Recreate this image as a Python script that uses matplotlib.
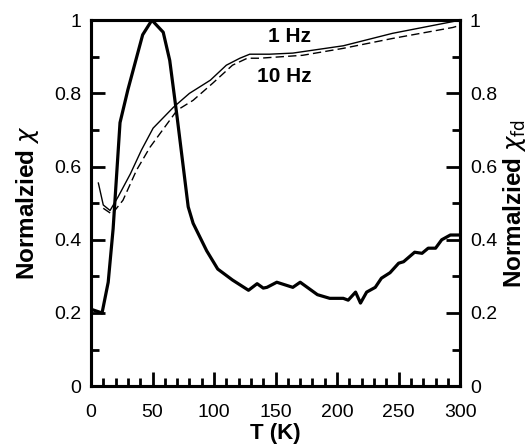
import numpy as np
import matplotlib
matplotlib.use('Agg')
import matplotlib.pyplot as plt
from matplotlib.ticker import MultipleLocator, FuncFormatter

plt.rcParams['font.family'] = ['Liberation Sans', 'DejaVu Sans']

# chi_fd (thick curve, right axis)
t_fd = [2, 9, 14, 18, 23.6, 30, 34, 42, 49.5, 58.7, 64, 70, 79, 83, 94, 103, 115, 128,
        135, 140, 143, 151, 164, 170, 184, 194, 205, 209, 215, 219, 224, 231, 236,
        243, 250, 254, 263, 269, 274, 280, 285, 292, 300]
chi_fd = [0.208, 0.2, 0.284, 0.43, 0.72, 0.81, 0.86, 0.96, 1.0, 0.967, 0.89, 0.735, 0.49,
          0.445, 0.37, 0.32, 0.29, 0.262, 0.28, 0.268, 0.27, 0.284, 0.27, 0.284, 0.25,
          0.24, 0.24, 0.235, 0.257, 0.227, 0.257, 0.27, 0.295, 0.31, 0.336, 0.34,
          0.366, 0.363, 0.377, 0.377, 0.4, 0.413, 0.413]

# chi' at 1 Hz (thin solid)
t_1hz = [6, 10, 15.5, 22, 32, 41, 50.5, 67, 80, 97, 110, 121, 129, 145, 164, 205, 245, 300]
chi_1hz = [0.555, 0.495, 0.48, 0.517, 0.58, 0.645, 0.705, 0.762, 0.8, 0.836, 0.877,
           0.896, 0.907, 0.907, 0.91, 0.93, 0.964, 1.0]

# chi' at 10 Hz (thin dashed)
t_10hz = [10, 17, 26, 37, 48, 70, 83, 99, 115, 127, 137, 172, 205, 245, 294, 300]
chi_10hz = [0.486, 0.47, 0.508, 0.59, 0.653, 0.754, 0.781, 0.828, 0.877, 0.896, 0.896,
            0.904, 0.923, 0.95, 0.98, 0.986]

fig = plt.figure(figsize=(5.32, 4.48), dpi=100)
ax = fig.add_axes([0.171, 0.138, 0.694, 0.817])
ax2 = ax.twinx()

ax.plot(t_1hz, chi_1hz, color='black', lw=1.0)
ax.plot(t_10hz, chi_10hz, color='black', lw=1.0, dashes=(6, 3))
ax2.plot(t_fd, chi_fd, color='black', lw=2.3)

fmt = FuncFormatter(lambda v, p: '%g' % round(v, 2))
for a in (ax, ax2):
    a.set_xlim(0, 300)
    a.set_ylim(0, 1)
    for s in a.spines.values():
        s.set_linewidth(2.2)
    a.yaxis.set_major_locator(MultipleLocator(0.2))
    a.yaxis.set_minor_locator(MultipleLocator(0.1))
    a.yaxis.set_major_formatter(fmt)
    a.tick_params(which='both', direction='in', width=2, labelsize=14)
    a.tick_params(which='major', length=10, pad=7)
    a.tick_params(which='minor', length=6)

ax.xaxis.set_major_locator(MultipleLocator(50))
ax.xaxis.set_minor_locator(MultipleLocator(10))
ax.tick_params(axis='x', which='major', pad=13)

ax.set_xlabel('T (K)', fontsize=16, fontweight='bold', labelpad=1)
ax.set_ylabel(r'Normalzied $\chi$', fontsize=17.5, fontweight='bold', labelpad=9)
ax2.set_ylabel(r'Normalzied $\chi_{\mathrm{fd}}$', fontsize=17.5, fontweight='bold', labelpad=3)

ax.text(161, 0.954, '1 Hz', fontsize=15, fontweight='bold', ha='center', va='center')
ax.text(157, 0.847, '10 Hz', fontsize=15, fontweight='bold', ha='center', va='center')

fig.savefig('out.png', dpi=100)
